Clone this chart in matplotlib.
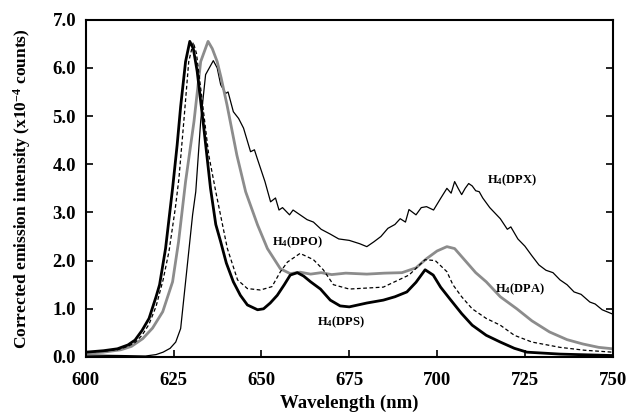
import matplotlib
matplotlib.use('Agg')
import matplotlib.pyplot as plt

plt.rcParams['font.family'] = ['Liberation Serif', 'DejaVu Serif']
plt.rcParams['font.weight'] = 'bold'
plt.rcParams['mathtext.fontset'] = 'custom'
plt.rcParams['mathtext.rm'] = 'Liberation Serif:bold'
plt.rcParams['mathtext.it'] = 'Liberation Serif:bold'
plt.rcParams['mathtext.bf'] = 'Liberation Serif:bold'

# H4(DPS) - thick black
wl_dps = [600, 605, 609, 612, 614, 616, 618, 620, 621, 622.7, 624.7, 626, 627, 628.4, 629.6,
          630.6, 631.7, 633.6, 635.5, 637, 638.4, 640, 642, 644, 646, 648.9, 650.6, 652.5,
          654.5, 656.5, 658.2, 660.2, 662, 664, 666.8, 669.6, 672.4, 675, 680, 684.7, 688,
          691.4, 694, 696.6, 698.9, 701, 703.7, 707, 710, 714, 718, 722, 725.6, 735, 750]
int_dps = [0.10, 0.13, 0.17, 0.25, 0.35, 0.55, 0.80, 1.25, 1.50, 2.25, 3.50, 4.40, 5.20, 6.13, 6.55,
           6.40, 5.93, 4.75, 3.50, 2.75, 2.39, 1.95, 1.56, 1.28, 1.08, 0.98, 1.00, 1.12,
           1.28, 1.50, 1.70, 1.75, 1.68, 1.56, 1.41, 1.18, 1.06, 1.04, 1.12, 1.18, 1.25,
           1.35, 1.55, 1.81, 1.70, 1.45, 1.20, 0.90, 0.66, 0.45, 0.31, 0.18, 0.10, 0.06, 0.03]

# H4(DPO) - dashed
wl_dpo = [600, 605, 609, 612, 614, 616, 618, 620, 622, 623.7, 625.5, 626.5, 627.9, 629.3, 630.6,
          631.5, 632.7, 635, 637, 640.3, 643.2, 646, 649.7, 653, 655.4, 657.4, 661, 664.8,
          667.6, 670.5, 675, 684.7, 692, 696.6, 699.5, 702.8, 704.5, 707, 710, 714, 718,
          722, 727, 735, 742, 750]
int_dpo = [0.10, 0.12, 0.15, 0.22, 0.30, 0.45, 0.68, 1.05, 1.60, 2.20, 3.10, 3.70, 4.89, 6.13, 6.53,
           6.30, 5.58, 4.19, 3.43, 2.25, 1.60, 1.42, 1.39, 1.46, 1.77, 1.97, 2.15, 2.02,
           1.81, 1.50, 1.41, 1.45, 1.70, 2.02, 2.00, 1.77, 1.50, 1.25, 1.00, 0.80, 0.66,
           0.45, 0.31, 0.20, 0.14, 0.10]

# H4(DPA) - grey
wl_dpa = [600, 605, 610, 613, 616.2, 619, 621.9, 624.7, 626.4, 628.4, 630.8, 632.7, 634.8,
          636, 637.4, 638.5, 640.2, 643, 645.5, 648.9, 651.7, 655.4, 658.2, 661, 664, 667,
          670, 674, 680, 685, 690, 694, 697, 700, 702.8, 705, 708, 711, 714, 718, 722.7, 727,
          732, 737, 741.5, 746, 750]
int_dpa = [0.08, 0.10, 0.15, 0.22, 0.38, 0.60, 0.94, 1.56, 2.39, 3.64, 4.89, 6.13, 6.55,
           6.40, 6.13, 5.80, 5.23, 4.19, 3.43, 2.74, 2.25, 1.83, 1.73, 1.76, 1.72, 1.75,
           1.71, 1.74, 1.72, 1.74, 1.75, 1.85, 2.04, 2.20, 2.29, 2.25, 2.00, 1.75, 1.56, 1.25,
           1.00, 0.75, 0.52, 0.36, 0.27, 0.20, 0.17]

# H4(DPX) - thin black
wl_dpx = [600, 610, 617, 620, 622, 624, 625.6, 627, 628.4, 630.4, 631.3, 632.7, 634.1, 636.3,
          637.4, 638.4, 639.8, 640.5, 642, 643.5, 644.9, 646.9, 648, 648.8, 651, 652.6, 654,
          655, 656, 658, 659, 661, 663, 664.8, 667, 669.6, 672, 675, 678, 680, 682, 684,
          686, 688, 689.5, 691, 692, 694, 695.5, 697, 699, 701, 702.8, 704, 705, 706, 707,
          708, 709, 710, 711, 712, 713, 715, 718, 720, 721, 723, 725, 727, 729, 731, 733,
          735, 737, 739, 741, 743.5, 745, 747, 750]
int_dpx = [0.04, 0.03, 0.02, 0.05, 0.10, 0.18, 0.31, 0.59, 1.56, 2.95, 3.43, 4.89, 5.86, 6.15,
           6.00, 5.65, 5.47, 5.50, 5.09, 4.95, 4.75, 4.26, 4.30, 4.12, 3.64, 3.22, 3.30,
           3.05, 3.10, 2.95, 3.05, 2.95, 2.85, 2.80, 2.65, 2.55, 2.45, 2.42, 2.35, 2.29, 2.39, 2.50,
           2.67, 2.75, 2.87, 2.80, 3.06, 2.95, 3.10, 3.12, 3.05, 3.29, 3.50, 3.40, 3.64, 3.50, 3.37,
           3.50, 3.60, 3.55, 3.45, 3.43, 3.30, 3.10, 2.87, 2.65, 2.70, 2.45, 2.30, 2.10, 1.91, 1.80, 1.75,
           1.60, 1.50, 1.35, 1.30, 1.14, 1.10, 0.98, 0.89]

xticks = [600, 625, 650, 675, 700, 725, 750]
yticks = [0, 1, 2, 3, 4, 5, 6, 7]

fig = plt.figure(figsize=(6.31, 4.19), dpi=100)
ax = fig.add_axes([0.136, 0.148, 0.835, 0.805])

ax.plot(wl_dpx, int_dpx, color='black', lw=0.9)
ax.plot(wl_dpa, int_dpa, color='#8c8c8c', lw=2.0)
ax.plot(wl_dpo, int_dpo, color='black', lw=0.9, dashes=(3, 2))
ax.plot(wl_dps, int_dps, color='black', lw=2.0)

ax.text(714.2, 3.66, r'H$_4$(DPX)', fontsize=9, va='center', ha='left')
ax.text(653.1, 2.39, r'H$_4$(DPO)', fontsize=9, va='center', ha='left')
ax.text(716.5, 1.41, r'H$_4$(DPA)', fontsize=9, va='center', ha='left')
ax.text(665.9, 0.73, r'H$_4$(DPS)', fontsize=9, va='center', ha='left')

ax.set_xlim(600, 750)
ax.set_ylim(0, 7)
ax.set_xticks(xticks)
ax.set_yticks(yticks)
ax.set_yticklabels(['%.1f' % v for v in yticks])
ax.tick_params(direction='in', length=5, width=1.2, labelsize=13.5)
ax.tick_params(axis='x', pad=11)
ax.tick_params(axis='y', right=True, pad=7)
for lab in ax.get_xticklabels() + ax.get_yticklabels():
    lab.set_fontweight('bold')
for s in ax.spines.values():
    s.set_linewidth(1.5)

ax.set_xlabel('Wavelength (nm)', fontsize=13.5, fontweight='bold', labelpad=4)
ax.set_ylabel(r'Corrected emission intensity (x10$^{-4}$ counts)', fontsize=12.5,
              fontweight='bold', labelpad=14)

fig.savefig('out.png', dpi=100)
